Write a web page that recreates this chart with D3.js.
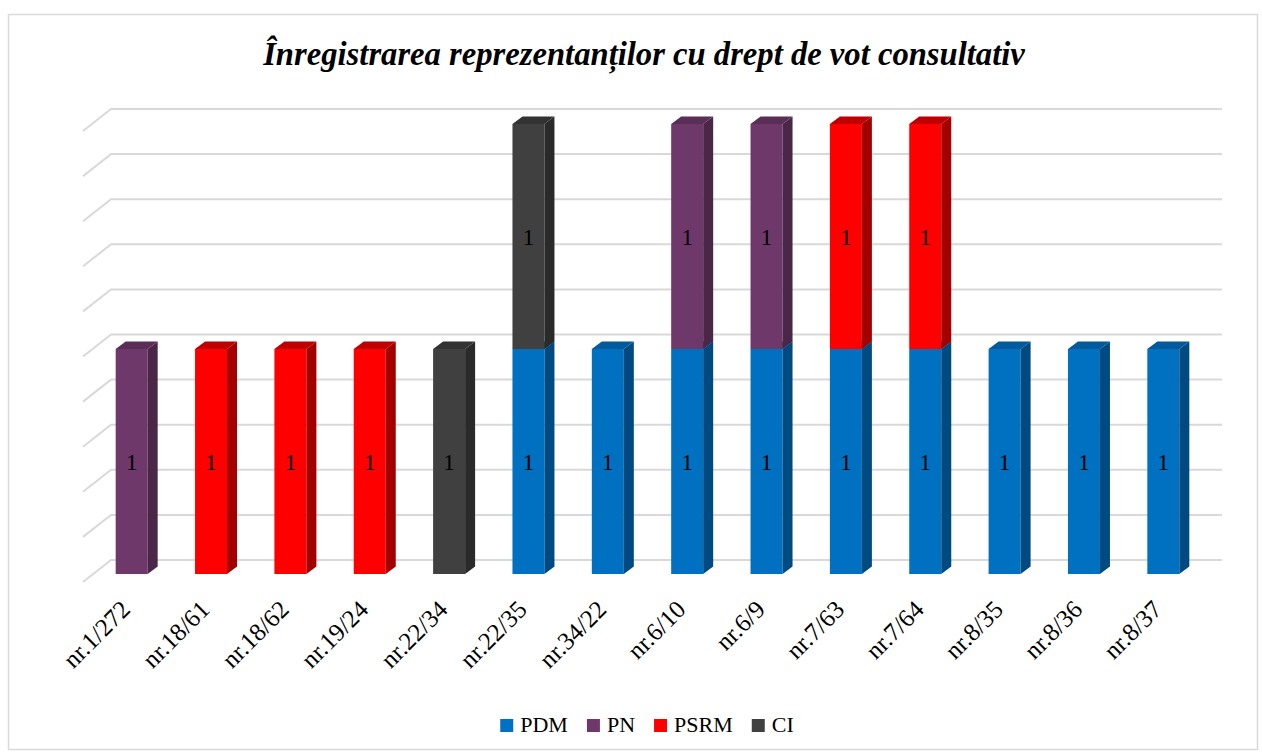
<!DOCTYPE html>
<html>
<head>
<meta charset="utf-8">
<script src="https://cdn.jsdelivr.net/npm/d3@7"></script>
<style>
  body { margin: 0; background: #fff; }
  text { font-family: "Liberation Serif", serif; }
</style>
</head>
<body>
<script>
const width = 1262;
const height = 754;

// data
const categories = ['nr.1/272', 'nr.18/61', 'nr.18/62', 'nr.19/24', 'nr.22/34', 'nr.22/35', 'nr.34/22',
    'nr.6/10', 'nr.6/9', 'nr.7/63', 'nr.7/64', 'nr.8/35', 'nr.8/36', 'nr.8/37'];
const series_names = ['PDM', 'PN', 'PSRM', 'CI'];
const pdm = [0, 0, 0, 0, 0, 1, 1, 1, 1, 1, 1, 1, 1, 1];
const pn = [1, 0, 0, 0, 0, 0, 0, 1, 1, 0, 0, 0, 0, 0];
const psrm = [0, 1, 1, 1, 0, 0, 0, 0, 0, 1, 1, 0, 0, 0];
const ci = [0, 0, 0, 0, 1, 1, 0, 0, 0, 0, 0, 0, 0, 0];
const y_ticks = d3.range(0, 2.01, 0.2);
const title_text = 'Înregistrarea reprezentanților cu drept de vot consultativ';

const colors = {
    PDM: { front: '#0070c0', side: '#004a82', top: '#005a9c' },
    PN: { front: '#6f386a', side: '#4a2746', top: '#5a2e56' },
    PSRM: { front: '#ff0000', side: '#a30000', top: '#c00000' },
    CI: { front: '#404040', side: '#2a2a2a', top: '#333333' }
};

const table = categories.map((c, i) => ({ cat: c, PDM: pdm[i], PN: pn[i], PSRM: psrm[i], CI: ci[i] }));
const stacked = d3.stack().keys(series_names)(table);

// 3d geometry
const depth_dx = 28, depth_dy = 22;     // floor depth
const bar_dx = 10, bar_dy = 7.5;        // bar depth
const bar_w = 32;
const wall_left = 111, wall_right = 1222;

const svg = d3.select('body')
    .append('svg')
    .attr('width', width)
    .attr('height', height);

svg.append('rect')
    .attr('width', width)
    .attr('height', height)
    .attr('fill', '#fff');
svg.append('rect')
    .attr('x', 8.5)
    .attr('y', 14.5)
    .attr('width', 1249)
    .attr('height', 735)
    .attr('fill', 'none')
    .attr('stroke', '#d9d9d9')
    .attr('stroke-width', 1.5);

const x = d3.scaleBand()
    .domain(categories)
    .range([wall_left - depth_dx / 2, wall_right - depth_dx / 2]);
const y_wall = d3.scaleLinear().domain([0, 2]).range([560, 109]);
const y_front = d3.scaleLinear().domain([0, 2]).range([574, 124]);

// gridlines: back wall + side diagonal
const grid = svg.append('g').attr('class', 'grid');
grid.selectAll('path')
    .data(y_ticks)
    .enter()
    .append('path')
    .attr('d', d => {
        const yy = y_wall(d);
        return `M${wall_left - depth_dx},${yy + depth_dy}L${wall_left},${yy}L${wall_right},${yy}`;
    })
    .attr('fill', 'none')
    .attr('stroke', '#d9d9d9')
    .attr('stroke-width', 2);

// bars
const bars = svg.append('g').attr('class', 'bars');
const segs = [];
stacked.forEach(s => {
    s.forEach((d, i) => {
        if (d[1] - d[0] > 0) segs.push({ key: s.key, i: i, y0: d[0], y1: d[1] });
    });
});

segs.forEach(d => {
    const c = colors[d.key];
    const left = x(categories[d.i]) + x.bandwidth() / 2 - 21;
    const yb = y_front(d.y0), yt = y_front(d.y1);
    const g = bars.append('g');
    g.append('rect')
        .attr('x', left)
        .attr('y', yt)
        .attr('width', bar_w)
        .attr('height', yb - yt)
        .attr('fill', c.front);
    g.append('path')
        .attr('d', `M${left + bar_w},${yb}L${left + bar_w + bar_dx},${yb - bar_dy}L${left + bar_w + bar_dx},${yt - bar_dy}L${left + bar_w},${yt}Z`)
        .attr('fill', c.side);
    g.append('path')
        .attr('d', `M${left},${yt}L${left + bar_dx},${yt - bar_dy}L${left + bar_w + bar_dx},${yt - bar_dy}L${left + bar_w},${yt}Z`)
        .attr('fill', c.top);
    g.append('text')
        .attr('x', left + bar_w / 2)
        .attr('y', (yb + yt) / 2 + 8)
        .attr('text-anchor', 'middle')
        .attr('font-size', 23)
        .attr('fill', '#000')
        .text(d.y1 - d.y0);
});

// x axis labels
svg.append('g')
    .attr('class', 'x_labels')
    .selectAll('text')
    .data(categories)
    .enter()
    .append('text')
    .attr('transform', d => `translate(${x(d) + x.bandwidth() / 2 - 5},${611}) rotate(-45)`)
    .attr('text-anchor', 'end')
    .attr('font-size', 25)
    .attr('fill', '#000')
    .text(d => d);

// title, sized to the reference width
const title = svg.append('text')
    .attr('x', 644)
    .attr('y', 65)
    .attr('text-anchor', 'middle')
    .attr('font-weight', 'bold')
    .attr('font-style', 'italic')
    .attr('font-size', 27)
    .attr('fill', '#000')
    .text(title_text);
const tw = title.node().getComputedTextLength();
title.attr('font-size', 27 * 762 / tw);

// legend
const legend = svg.append('g').attr('class', 'legend');
let lx = 0;
series_names.forEach(name => {
    const item = legend.append('g').attr('transform', `translate(${lx},0)`);
    item.append('rect')
        .attr('x', 0)
        .attr('y', 719)
        .attr('width', 13)
        .attr('height', 13)
        .attr('fill', colors[name].front);
    const t = item.append('text')
        .attr('x', 20)
        .attr('y', 732)
        .attr('font-size', 22)
        .attr('fill', '#000')
        .text(name);
    lx += 20 + t.node().getComputedTextLength() + 19;
});
const legend_w = lx - 19;
legend.attr('transform', `translate(${647 - legend_w / 2},0)`);
</script>
</body>
</html>
